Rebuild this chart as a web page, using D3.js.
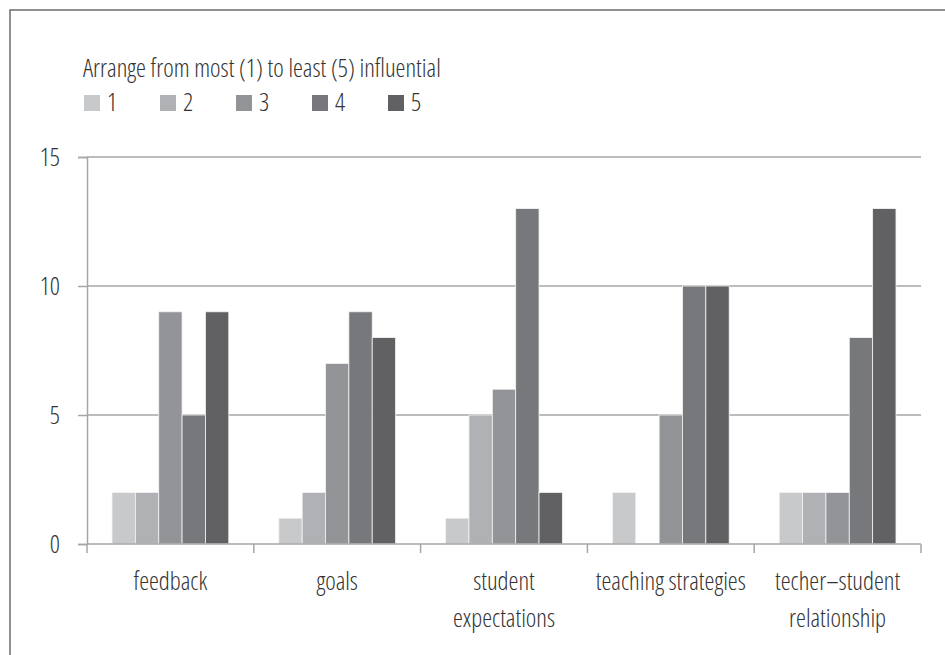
<!DOCTYPE html>
<html>
<head>
<meta charset="utf-8">
<script src="https://cdn.jsdelivr.net/npm/d3@7"></script>
<style>
  body { margin: 0; background: #fff; }
  text { font-family: "Open Sans", "Liberation Sans Narrow", sans-serif; font-weight: 300; font-stretch: condensed; fill: #333; }
</style>
</head>
<body>
<div class="canvas"></div>
<script>
const categories = [
  ["feedback"],
  ["goals"],
  ["student", "expectations"],
  ["teaching strategies"],
  ["techer\u2013student", "relationship"]
];
const ranks = ["1", "2", "3", "4", "5"];
const rank1 = [2, 1, 1, 2, 2];
const rank2 = [2, 2, 5, 0, 2];
const rank3 = [9, 7, 6, 5, 2];
const rank4 = [5, 9, 13, 10, 8];
const rank5 = [9, 8, 2, 10, 13];
const yTicks = [0, 5, 10, 15];
const colors = ["#c8c9cb", "#b0b1b4", "#939497", "#77787b", "#616163"];
const legendTitle = "Arrange from most (1) to least (5) influential";

const series = [rank1, rank2, rank3, rank4, rank5];
const dims = { width: 945, height: 655 };
const margin = { top: 157, right: 24, bottom: 111, left: 87 };
const fontSize = 25;

const svg = d3
  .select(".canvas")
  .append("svg")
  .attr("width", dims.width)
  .attr("height", dims.height);

// outer frame
svg.append("rect")
  .attr("x", 10).attr("y", 10)
  .attr("width", 960).attr("height", 700)
  .attr("fill", "none")
  .attr("stroke", "#6d6d6d")
  .attr("stroke-width", 1.5);

const x0 = d3
  .scaleBand()
  .domain(d3.range(categories.length))
  .range([margin.left, dims.width - margin.right])
  .paddingInner(0.3)
  .paddingOuter(0.15);

const x1 = d3
  .scaleBand()
  .domain(ranks)
  .range([0, x0.bandwidth()]);

const y = d3
  .scaleLinear()
  .domain([0, 15])
  .range([dims.height - margin.bottom, margin.top]);

// y ticks
const yAxis = svg.append("g")
  .attr("transform", `translate(${margin.left}, 0)`)
  .call(d3.axisLeft(y).tickValues(yTicks).tickSize(9).tickPadding(18));
yAxis.select(".domain").attr("stroke", "#a6a6a6").attr("stroke-width", 1.5);
yAxis.selectAll(".tick line").attr("stroke", "#a6a6a6").attr("stroke-width", 1.5);
yAxis.selectAll(".tick text").attr("font-size", fontSize).attr("fill", "#333");

// gridlines
svg.append("g")
  .selectAll("line")
  .data(yTicks.filter((t) => t > 0))
  .enter()
  .append("line")
  .attr("x1", margin.left)
  .attr("x2", dims.width - margin.right)
  .attr("y1", (d) => y(d))
  .attr("y2", (d) => y(d))
  .attr("stroke", "#a6a6a6")
  .attr("stroke-width", 1.5);

// bars
const groups = svg.append("g")
  .selectAll("g")
  .data(categories)
  .enter()
  .append("g")
  .attr("transform", (d, i) => `translate(${x0(i)}, 0)`);

groups.selectAll("rect")
  .data((d, i) => ranks.map((r, j) => ({ rank: r, value: series[j][i], idx: j })))
  .enter()
  .append("rect")
  .filter((d) => d.value > 0)
  .attr("x", (d) => x1(d.rank))
  .attr("width", x1.bandwidth())
  .attr("y", (d) => y(d.value))
  .attr("height", (d) => y(0) - y(d.value))
  .attr("fill", (d) => colors[d.idx])
  .attr("stroke", "#f4f4f4")
  .attr("stroke-width", 0.8);

// x axis baseline with separating ticks
const step = x0.step();
const xAxis = svg.append("g");
xAxis.append("line")
  .attr("x1", margin.left)
  .attr("x2", dims.width - margin.right)
  .attr("y1", y(0))
  .attr("y2", y(0))
  .attr("stroke", "#a6a6a6")
  .attr("stroke-width", 1.5);

const edges = d3.range(categories.length + 1).map((i) =>
  i < categories.length ? x0(i) + x0.bandwidth() / 2 - step / 2 : x0(i - 1) + x0.bandwidth() / 2 + step / 2
);
xAxis.selectAll(".sep")
  .data(edges)
  .enter()
  .append("line")
  .attr("x1", (d) => d)
  .attr("x2", (d) => d)
  .attr("y1", y(0))
  .attr("y2", y(0) + 9)
  .attr("stroke", "#a6a6a6")
  .attr("stroke-width", 1.5);

xAxis.selectAll(".cat")
  .data(categories)
  .enter()
  .append("text")
  .attr("text-anchor", "middle")
  .attr("font-size", fontSize)
  .attr("x", (d, i) => x0(i) + x0.bandwidth() / 2)
  .attr("y", y(0) + 46)
  .selectAll("tspan")
  .data((d) => d)
  .enter()
  .append("tspan")
  .attr("x", function () { return this.parentNode.getAttribute("x"); })
  .attr("dy", (d, i) => (i === 0 ? 0 : 37))
  .text((d) => d);

// legend
const legend = svg.append("g").attr("transform", "translate(84, 0)");
legend.append("text")
  .attr("x", -1)
  .attr("y", 77)
  .attr("font-size", fontSize)
  .text(legendTitle);

const items = legend.selectAll(".item")
  .data(ranks)
  .enter()
  .append("g")
  .attr("transform", (d, i) => `translate(${i * 76}, 0)`);
items.append("rect")
  .attr("x", 0).attr("y", 95)
  .attr("width", 16).attr("height", 16)
  .attr("fill", (d, i) => colors[i]);
items.append("text")
  .attr("x", 23)
  .attr("y", 111)
  .attr("font-size", fontSize)
  .text((d) => d);
</script>
</body>
</html>
